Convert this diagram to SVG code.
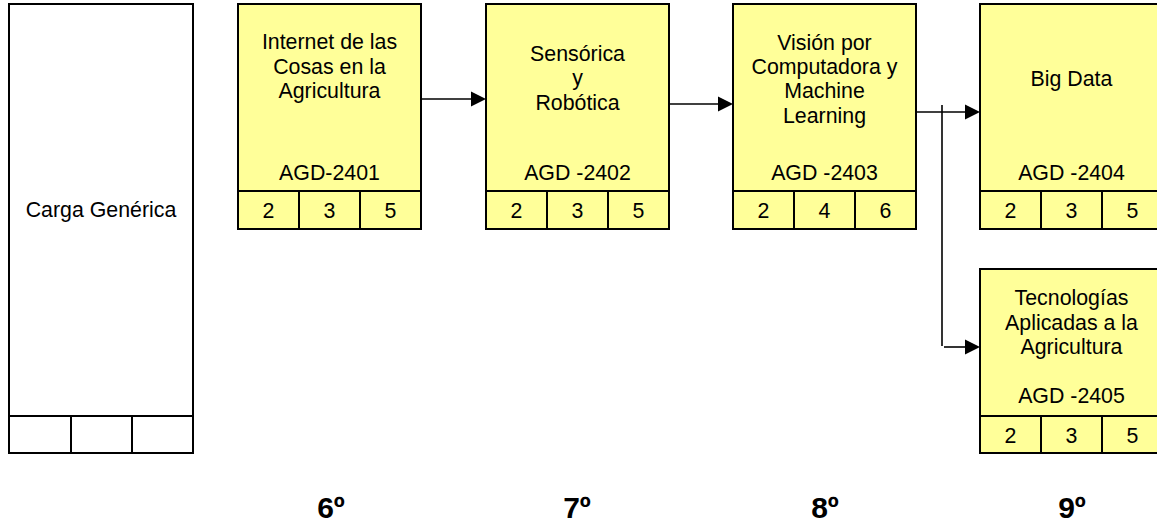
<svg xmlns="http://www.w3.org/2000/svg" width="1157" height="525" viewBox="0 0 1157 525">
<style>
.box{fill:#FFFF99;stroke:#000;stroke-width:2}
.wbox{fill:#fff;stroke:#000;stroke-width:2}
.ln{stroke:#000;stroke-width:2;fill:none}
.t{font-family:"Liberation Sans",Arial,sans-serif;font-size:21.33px;fill:#000;text-anchor:middle}
.sem{font-family:"Liberation Sans",Arial,sans-serif;font-size:30px;font-weight:bold;fill:#000;text-anchor:middle}
.cn{stroke:#000;stroke-width:1.6;fill:none}
.ah{fill:#000}
</style>
<rect width="1157" height="525" fill="#fff"/>
<g id="carga">
<rect class="wbox" x="9" y="4" width="184" height="449"/>
<line class="ln" x1="9" y1="416" x2="193" y2="416"/>
<line class="ln" x1="71" y1="416" x2="71" y2="453"/>
<line class="ln" x1="132" y1="416" x2="132" y2="453"/>
<text class="t" x="101" y="217">Carga Genérica</text>
</g>
<g id="n2401">
<rect class="box" x="238" y="4" width="183" height="225"/>
<line class="ln" x1="238" y1="191" x2="421" y2="191"/>
<line class="ln" x1="299" y1="191" x2="299" y2="229"/>
<line class="ln" x1="360" y1="191" x2="360" y2="229"/>
<text class="t" x="329.5" y="49">Internet de las</text>
<text class="t" x="329.5" y="74">Cosas en la</text>
<text class="t" x="329.5" y="98">Agricultura</text>
<text class="t" x="329.5" y="180">AGD-2401</text>
<text class="t" x="268.5" y="218">2</text>
<text class="t" x="329.5" y="218">3</text>
<text class="t" x="390.5" y="218">5</text>
</g>
<g id="n2402">
<rect class="box" x="486" y="4" width="183" height="225"/>
<line class="ln" x1="486" y1="191" x2="669" y2="191"/>
<line class="ln" x1="547" y1="191" x2="547" y2="229"/>
<line class="ln" x1="608" y1="191" x2="608" y2="229"/>
<text class="t" x="577.5" y="61">Sensórica</text>
<text class="t" x="577.5" y="85">y</text>
<text class="t" x="577.5" y="110">Robótica</text>
<text class="t" x="577.5" y="180">AGD -2402</text>
<text class="t" x="516.5" y="218">2</text>
<text class="t" x="577.5" y="218">3</text>
<text class="t" x="638.5" y="218">5</text>
</g>
<g id="n2403">
<rect class="box" x="733" y="4" width="183" height="225"/>
<line class="ln" x1="733" y1="191" x2="916" y2="191"/>
<line class="ln" x1="794" y1="191" x2="794" y2="229"/>
<line class="ln" x1="855" y1="191" x2="855" y2="229"/>
<text class="t" x="824.5" y="50">Visión por</text>
<text class="t" x="824.5" y="74">Computadora y</text>
<text class="t" x="824.5" y="98">Machine</text>
<text class="t" x="824.5" y="123">Learning</text>
<text class="t" x="824.5" y="180">AGD -2403</text>
<text class="t" x="763.5" y="218">2</text>
<text class="t" x="824.5" y="218">4</text>
<text class="t" x="885.5" y="218">6</text>
</g>
<g id="n2404">
<rect class="box" x="980" y="4" width="183" height="225"/>
<line class="ln" x1="980" y1="191" x2="1163" y2="191"/>
<line class="ln" x1="1041" y1="191" x2="1041" y2="229"/>
<line class="ln" x1="1102" y1="191" x2="1102" y2="229"/>
<text class="t" x="1071.5" y="86">Big Data</text>
<text class="t" x="1071.5" y="180">AGD -2404</text>
<text class="t" x="1010.5" y="218">2</text>
<text class="t" x="1071.5" y="218">3</text>
<text class="t" x="1132.5" y="218">5</text>
</g>
<g id="n2405">
<rect class="box" x="980" y="269" width="183" height="184"/>
<line class="ln" x1="980" y1="416" x2="1163" y2="416"/>
<line class="ln" x1="1041" y1="416" x2="1041" y2="453"/>
<line class="ln" x1="1102" y1="416" x2="1102" y2="453"/>
<text class="t" x="1071.5" y="305">Tecnologías</text>
<text class="t" x="1071.5" y="330">Aplicadas a la</text>
<text class="t" x="1071.5" y="354">Agricultura</text>
<text class="t" x="1071.5" y="403">AGD -2405</text>
<text class="t" x="1010.5" y="443">2</text>
<text class="t" x="1071.5" y="443">3</text>
<text class="t" x="1132.5" y="443">5</text>
</g>
<g id="connectors">
<line class="cn" x1="422" y1="99" x2="472" y2="99"/>
<polygon class="ah" points="471,91.5 486,99 471,106.5"/>
<line class="cn" x1="670" y1="104" x2="719" y2="104"/>
<polygon class="ah" points="718,96.5 733,104 718,111.5"/>
<line class="cn" x1="917" y1="112" x2="966" y2="112"/>
<polygon class="ah" points="965,104.5 980,112 965,119.5"/>
<line class="cn" x1="942" y1="105" x2="942" y2="346"/>
<line class="cn" x1="944" y1="347" x2="966" y2="347"/>
<polygon class="ah" points="965,339.5 980,347 965,354.5"/>
</g>
<g id="semesters">
<text class="sem" x="331" y="518">6º</text>
<text class="sem" x="577" y="518">7º</text>
<text class="sem" x="825" y="518">8º</text>
<text class="sem" x="1072" y="518">9º</text>
</g>
</svg>
